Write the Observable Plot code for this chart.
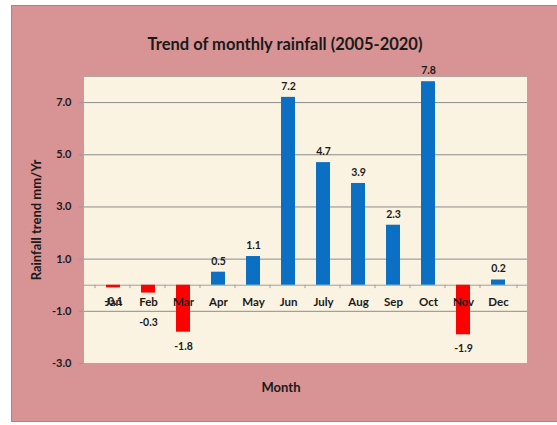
<!DOCTYPE html>
<html><head><meta charset="utf-8">
<script src="https://cdn.jsdelivr.net/npm/d3@7"></script>
<script src="https://cdn.jsdelivr.net/npm/@observablehq/plot@0.6"></script>
<style>
body{margin:0;background:#fff;font-family:Lato,"Open Sans",sans-serif;}
#wrap{position:relative;width:557px;height:425px;overflow:hidden;}
#bg{position:absolute;left:11px;top:5px;width:560px;height:417px;background:#d89394;border:1.5px solid #9a8a8a;box-sizing:border-box;}
#title{position:absolute;left:0;width:570px;top:34px;text-align:center;font-weight:bold;font-size:16.5px;color:#1a1a1a;}
#xlabel{position:absolute;left:0;width:562px;top:379px;text-align:center;font-weight:bold;font-size:13px;color:#1a1a1a;}
#chart{position:absolute;left:0;top:0;}
</style></head>
<body><div id="wrap"><div id="bg"></div><div id="title">Trend of monthly rainfall (2005-2020)</div><div id="xlabel">Month</div><div id="chart"></div></div>
<script>
const months = ["Jan","Feb","Mar","Apr","May","Jun","July","Aug","Sep","Oct","Nov","Dec"];
const values = [-0.1,-0.3,-1.8,0.5,1.1,7.2,4.7,3.9,2.3,7.8,-1.9,0.2];
const yTicks = [-3,-1,1,3,5,7];
const gridTicks = [-1,1,3,5,7];

const data = months.map((m,i)=>({month:m, value:values[i]}));
const bw = 444/12;
// negative labels sit below the bar end; a short bar whose label would hit the month name is pushed further down (as in the reference)
const negDy = d => (d.value > -0.5 && d.value < -0.2) ? 30 : 14;

const plot = Plot.plot({
  width:557, height:425,
  marginLeft:83, marginRight:30, marginTop:76, marginBottom:62,
  style:{background:"transparent", fontFamily:"Lato, 'Open Sans', sans-serif", color:"#1a1a1a", overflow:"visible"},
  x:{type:"band", domain:months, padding:0.6, axis:null},
  y:{domain:[-3,8]},
  marks:[
    Plot.frame({fill:"#fbf3e1", stroke:"none"}),
    Plot.gridY(gridTicks,{stroke:"#8c8c8c", strokeOpacity:1, strokeWidth:1}),
    Plot.axisY(yTicks,{tickFormat:d=>d.toFixed(1), fontWeight:"bold", fontSize:11, tickSize:4, stroke:"#999", tickPadding:8,
      label:"Rainfall trend mm/Yr", labelAnchor:"center", labelArrow:"none", labelOffset:52}),
    Plot.ruleY([0],{stroke:"#a0a0a0"}),
    Plot.ruleX(months,{x:d=>d, dx:-bw/2, y1:0, y2:-0.13, stroke:"#a0a0a0"}),
    Plot.ruleX(["Dec"],{x:d=>d, dx:bw/2, y1:0, y2:-0.13, stroke:"#a0a0a0"}),
    Plot.barY(data,{x:"month", y:"value", fill:d=>d.value<0?"#ff0000":"#0b6fc4"}),
    Plot.text(data,{x:"month", y:0, text:"month", dy:17, fontWeight:"bold", fontSize:11.5, fill:"#1a1a1a"}),
    Plot.text(data.filter(d=>d.value>=0),{x:"month", y:"value", text:d=>d.value.toFixed(1), dy:-11, fontWeight:"bold", fontSize:10.5, fill:"#1a1a1a"}),
    ...data.filter(d=>d.value<0).map(d=>Plot.text([d],{x:"month", y:"value", text:e=>e.value.toFixed(1), dy:negDy(d), fontWeight:"bold", fontSize:10.5, fill:"#1a1a1a"})),
    Plot.frame({stroke:"#b0a8a0", fill:"none"})
  ]
});
plot.querySelectorAll('[aria-label="y-axis label"] text').forEach(t=>{t.setAttribute("font-weight","bold");t.setAttribute("font-size","13");});
document.getElementById("chart").appendChild(plot);
</script></body></html>
